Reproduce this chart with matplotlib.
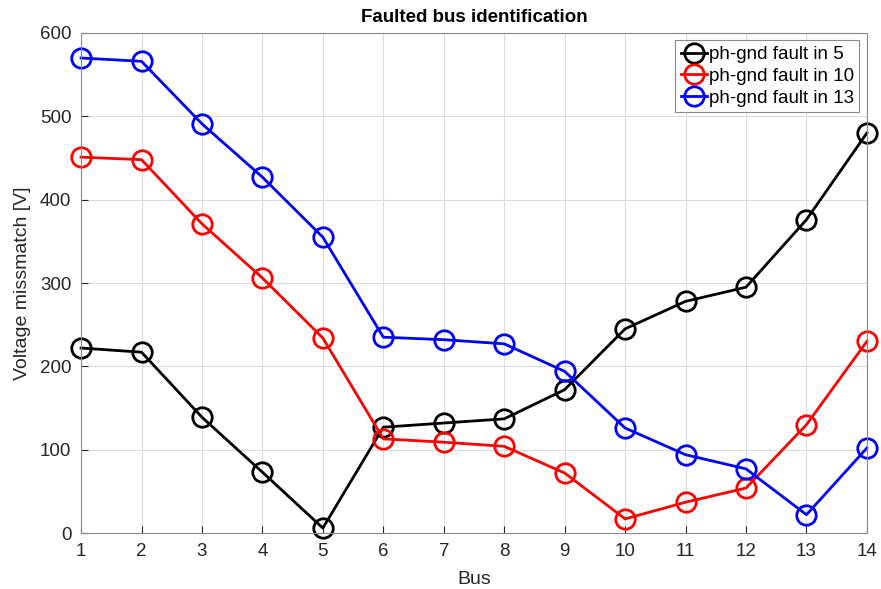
import matplotlib
matplotlib.use("Agg")
import matplotlib.pyplot as plt

plt.rcParams['font.family'] = ['Liberation Sans', 'DejaVu Sans']

bus = list(range(1, 15))
fault5 = [222, 217, 139, 73, 6, 127, 132, 137, 172, 245, 278, 295, 376, 480]
fault10 = [451, 448, 371, 306, 234, 113, 109, 104, 72, 17, 37, 54, 130, 230]
fault13 = [570, 566, 491, 427, 355, 235, 232, 227, 194, 126, 94, 77, 22, 102]
labels = ['ph-gnd fault in 5', 'ph-gnd fault in 10', 'ph-gnd fault in 13']
colors = ['#000000', '#ff0000', '#0000ff']

fig = plt.figure(figsize=(8.81, 5.89), dpi=100)
ax = fig.add_axes([0.092, 0.095, 0.892, 0.849])

for ys, lab, c in zip([fault5, fault10, fault13], labels, colors):
    ax.plot(bus, ys, '-o', color=c, lw=2, ms=14, mfc='none', mew=2, label=lab,
            clip_on=False)

ax.set_xlim(1, 14)
ax.set_ylim(0, 600)
ax.set_xticks(bus)
ax.set_yticks(range(0, 601, 100))
ax.grid(True, color='#dcdcdc', lw=0.8)
ax.set_axisbelow(True)
ax.tick_params(direction='in', length=5, labelsize=13.5, colors='#262626', width=0.8, pad=7)
for s in ax.spines.values():
    s.set_color('#8a8a8a')
    s.set_linewidth(0.8)
ax.set_xlabel('Bus', fontsize=14, color='#262626', labelpad=8)
ax.set_ylabel('Voltage missmatch [V]', fontsize=14, color='#262626', labelpad=6)
ax.set_title('Faulted bus identification', fontsize=13.5, fontweight='bold', pad=8)
leg = ax.legend(loc='upper right', fontsize=13.5, fancybox=False, framealpha=1,
                edgecolor='#8a8a8a', handlelength=1.4, handletextpad=0.1,
                borderpad=0.3, labelspacing=0.25, borderaxespad=0.4)
leg.get_frame().set_linewidth(0.8)

fig.savefig('out.png', dpi=100)
